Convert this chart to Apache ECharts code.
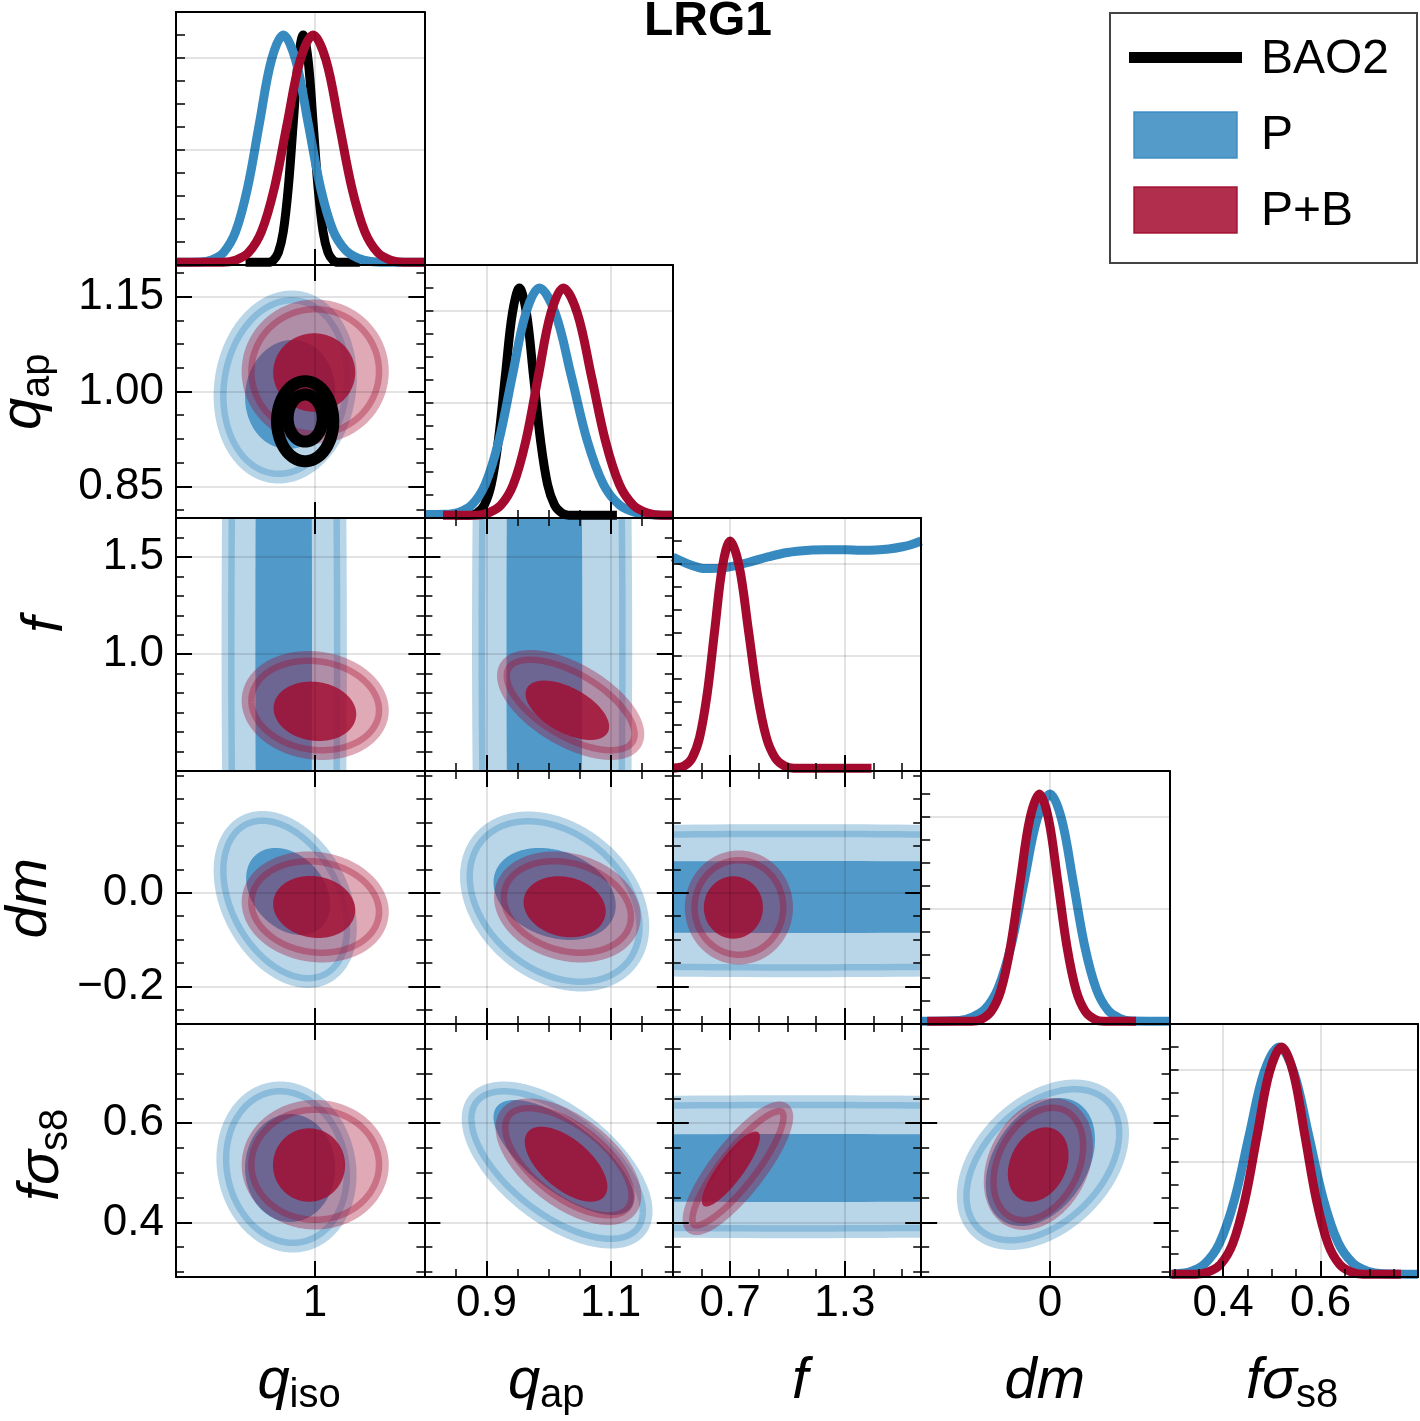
<!DOCTYPE html>
<html>
<head>
<meta charset="utf-8">
<script src="https://cdn.jsdelivr.net/npm/echarts@6/dist/echarts.min.js"></script>
<style>
  html, body { margin: 0; padding: 0; background: #fff; }
  #main { width: 1420px; height: 1421px; }
</style>
</head>
<body>
<div id="main"></div>
<script>
// ---- 1D marginals, [value, density] (peak ~ 10)
var qisoBAO2 = [[0.93,0.12],[0.953,0.12],[0.958,0.21],[0.963,0.54],[0.968,1.45],[0.973,3.35],[0.978,6.17],[0.983,8.9],[0.988,10],[0.993,8.9],[0.998,6.17],[1.003,3.35],[1.008,1.45],[1.013,0.54],[1.018,0.21],[1.023,0.12],[1.045,0.12]];
var qisoP = [[0.86,0.12],[0.884,0.13],[0.896,0.22],[0.908,0.55],[0.92,1.45],[0.932,3.35],[0.944,6.17],[0.956,8.9],[0.968,10],[0.9805,8.9],[0.993,6.17],[1.0055,3.35],[1.018,1.5],[1.0305,0.65],[1.043,0.3],[1.056,0.15],[1.07,0.12],[1.11,0.12]];
var qisoPB = [[0.86,0.12],[0.907,0.12],[0.92,0.21],[0.933,0.54],[0.946,1.45],[0.959,3.35],[0.972,6.17],[0.985,8.9],[0.998,10],[1.011,8.9],[1.024,6.17],[1.037,3.35],[1.05,1.45],[1.063,0.54],[1.076,0.21],[1.089,0.12],[1.11,0.12]];

var qapBAO2 = [[0.85,0.12],[0.8736,0.12],[0.8849,0.22],[0.8963,0.55],[0.9076,1.45],[0.919,3.35],[0.9303,6.17],[0.9417,8.9],[0.953,10],[0.9644,8.9],[0.9757,6.17],[0.9871,3.35],[0.9984,1.45],[1.0098,0.55],[1.0211,0.22],[1.0325,0.12],[1.11,0.12]];
var qapP = [[0.8,0.15],[0.833,0.16],[0.8545,0.24],[0.8763,0.57],[0.898,1.47],[0.9198,3.35],[0.9415,6.17],[0.9633,8.9],[0.985,10],[1.0108,8.9],[1.0366,6.17],[1.0624,3.35],[1.0882,1.47],[1.114,0.57],[1.1398,0.24],[1.1656,0.14],[1.2,0.12]];
var qapPB = [[0.83,0.12],[0.8826,0.12],[0.9028,0.22],[0.923,0.55],[0.9431,1.45],[0.9633,3.35],[0.9834,6.17],[1.0036,8.9],[1.0237,10],[1.0463,8.9],[1.0689,6.17],[1.0915,3.35],[1.1141,1.45],[1.1367,0.55],[1.1593,0.22],[1.1819,0.12],[1.2,0.12]];

var fP = [[0.4,9.3],[0.48,9.0],[0.571,8.8],[0.65,8.82],[0.729,8.93],[0.81,9.1],[0.903,9.32],[1.0,9.5],[1.113,9.6],[1.2,9.62],[1.305,9.62],[1.38,9.6],[1.463,9.61],[1.53,9.65],[1.602,9.75],[1.65,9.85],[1.7,10.0]];
var fPB = [[0.4,0.12],[0.42,0.14],[0.46,0.22],[0.5,0.55],[0.54,1.45],[0.58,3.35],[0.62,6.17],[0.66,8.9],[0.7,10],[0.7475,8.9],[0.795,6.17],[0.8425,3.35],[0.89,1.45],[0.9375,0.55],[0.985,0.22],[1.0325,0.12],[1.44,0.12]];

var dmP = [[-0.28,0.12],[-0.197,0.15],[-0.169,0.3],[-0.141,0.65],[-0.113,1.55],[-0.0846,3.4],[-0.0564,6.17],[-0.0282,8.9],[0,10],[0.0253,8.9],[0.0505,6.17],[0.0758,3.35],[0.101,1.5],[0.126,0.6],[0.1515,0.25],[0.177,0.13],[0.26,0.12]];
var dmPB = [[-0.267,0.12],[-0.17,0.12],[-0.149,0.21],[-0.128,0.54],[-0.107,1.45],[-0.086,3.35],[-0.065,6.17],[-0.044,8.9],[-0.023,10],[-0.003,8.9],[0.017,6.17],[0.037,3.35],[0.057,1.45],[0.077,0.54],[0.097,0.21],[0.117,0.12],[0.187,0.12]];

var fs8P = [[0.29,0.12],[0.3,0.13],[0.3305,0.22],[0.361,0.55],[0.392,1.45],[0.423,3.35],[0.4535,6.17],[0.484,8.9],[0.515,10],[0.545,8.9],[0.5755,6.17],[0.606,3.35],[0.636,1.5],[0.6665,0.6],[0.697,0.25],[0.727,0.14],[0.8,0.12]];
var fs8PB = [[0.295,0.12],[0.344,0.12],[0.3694,0.22],[0.3945,0.55],[0.4196,1.45],[0.4447,3.35],[0.4698,6.17],[0.4949,8.9],[0.52,10],[0.5438,8.9],[0.5676,6.17],[0.5914,3.35],[0.6152,1.45],[0.639,0.55],[0.6628,0.22],[0.6866,0.12],[0.765,0.12]];

// ---- 2D contours, one row per level: [cx, cy, sx, sy, rho]  (2-sigma first, then 1-sigma)
var BAO2_qap_qiso = [[0.99,0.953,0.0283,0.0632,0.0],[0.99,0.958,0.0176,0.0372,0.0]];
var P_qap_qiso  = [[0.9699,1.0071,0.0655,0.1423,0.1],[0.9749,0.9953,0.0454,0.0862,0.05]];
var PB_qap_qiso = [[1.0001,1.0316,0.0675,0.1036,0.0],[0.9991,1.03,0.0413,0.062,0.0]];

var P_f_qiso  = [[0.9689,1.05,0.0565,5,0],[0.9684,1.05,0.0285,5,0]];
var PB_f_qiso = [[1.0001,0.7366,0.0675,0.2466,-0.1],[0.9998,0.7068,0.0416,0.1526,-0.1]];
var P_f_qap   = [[1.0056,1.05,0.1185,5,0],[0.9932,1.05,0.061,5,0]];
var PB_f_qap  = [[1.0355,0.7392,0.1081,0.2492,-0.6],[1.0302,0.712,0.0673,0.1526,-0.55]];

var P_dm_qiso  = [[0.9699,-0.0142,0.0655,0.175,-0.35],[0.9729,0.0029,0.0423,0.0928,-0.3]];
var PB_dm_qiso = [[1.0001,-0.0302,0.0675,0.1046,-0.1],[0.9991,-0.0302,0.0413,0.0662,-0.1]];
var P_dm_qap   = [[1.0097,-0.0185,0.1419,0.1782,-0.3],[1.0097,-0.0025,0.0984,0.0982,-0.25]];
var PB_dm_qap  = [[1.0302,-0.0302,0.1076,0.1046,-0.2],[1.0258,-0.0298,0.0661,0.0651,-0.15]];
var P_dm_f     = [[1.05,-0.0168,5,0.1494,0],[1.05,-0.0089,5,0.0768,0]];
var PB_dm_f    = [[0.746,-0.0313,0.249,0.1078,0],[0.7171,-0.0313,0.1546,0.0666,0]];

var P_fs8_qiso  = [[0.9712,0.5117,0.064,0.1593,-0.1],[0.9749,0.5097,0.0454,0.1089,0]];
var PB_fs8_qiso = [[1.0001,0.5163,0.0675,0.1175,0],[0.9939,0.5157,0.0363,0.074,0]];
var P_fs8_qap   = [[1.0137,0.5157,0.1432,0.1552,-0.6],[1.0242,0.5309,0.1129,0.1159,-0.7]];
var PB_fs8_qap  = [[1.0319,0.5224,0.1069,0.1145,-0.6],[1.0281,0.5174,0.0665,0.0756,-0.6]];
var P_fs8_f     = [[1.05,0.5123,5,0.131,0],[1.05,0.5097,5,0.0685,0]];
var PB_fs8_f    = [[0.7407,0.5091,0.2553,0.1216,0.85],[0.704,0.5077,0.152,0.0756,0.85]];
var P_fs8_dm    = [[-0.0155,0.5163,0.1731,0.1587,0.4],[-0.0209,0.5218,0.1187,0.129,0.35]];
var PB_fs8_dm   = [[-0.0253,0.5178,0.1045,0.1198,0.3],[-0.0257,0.5167,0.066,0.075,0.25]];

// ---- axes
var ranges = [[0.86,1.11],[0.8,1.2],[0.4,1.7],[-0.28,0.26],[0.29,0.8]];
var xMajor = [[1],[0.9,1.1],[0.7,1.3],[0],[0.4,0.6]];
var yMajor = [[],[0.85,1.0,1.15],[1.0,1.5],[-0.2,0.0],[0.4,0.6]];
var xMinor = [null,[0.8,0.05],[0.4,0.15],null,[0.3,0.05]];   // start, step
var yMinor = [null,[0.8125,0.0375],[0.5,0.1],[-0.25,0.05],[0.3,0.05]];
var xDec = [0,1,1,0,1];
var yDec = [0,2,1,1,1];
var diagTicks = [1,2,3,4,5,6,7,8,9,10];
var diagGrid = [5,9];

var FONT = '"Liberation Sans", Arial, Helvetica, sans-serif';
var BLUE = [55,138,192], RED = [163,10,46];
function rgba(c, a){ return 'rgba(' + c[0] + ',' + c[1] + ',' + c[2] + ',' + a + ')'; }

var colX = [176, 424.4, 672.8, 921.2, 1169.6], W = 248.4;
var rowY = [12, 265, 518, 771, 1024], H = 253;

var myChart = echarts.init(document.getElementById('main'), null, {renderer: 'canvas'});

var option = {animation: false, backgroundColor: '#fff', grid: [], xAxis: [], yAxis: [], series: [], graphic: []};

function seq(start, step, range){
  var out = [];
  for (var v = start; v <= range[1] + 1e-9; v += step) {
    var r = Math.round(v * 1e6) / 1e6;
    if (r > range[0] + 1e-9 && r < range[1] - 1e-9) out.push(r);
  }
  return out;
}
function fmt(v, dec){
  var s = Math.abs(v).toFixed(dec);
  return (v < -1e-9 ? '\u2212' : '') + s;
}
function push(list, item){ list.push(item); return list.length - 1; }

function axis(gi, pos, range, ticks, len, opts){
  opts = opts || {};
  var dec = opts.dec;
  return {
    type: 'value', gridIndex: gi, position: pos, min: range[0], max: range[1], z: 10,
    axisLine: {show: !!opts.line, onZero: false, lineStyle: {color: '#000', width: 2}},
    axisTick: {show: len > 0, inside: true, length: len, customValues: ticks,
               lineStyle: {color: '#000', width: len >= 12 ? 2 : 1.5}},
    axisLabel: {show: dec !== undefined, customValues: ticks, margin: opts.margin || 8,
                color: '#000', fontSize: 44, fontFamily: FONT,
                formatter: function(v){ return fmt(v, dec); }},
    splitLine: {show: !!opts.split, lineStyle: {color: 'rgba(0,0,0,0.11)', width: 2}},
    minorTick: {show: false}, minorSplitLine: {show: false}
  };
}

function lineSeries(xi, yi, data, color){
  return {type: 'line', xAxisIndex: xi, yAxisIndex: yi, data: data, smooth: 0.35,
          symbol: 'none', showSymbol: false, clip: true, silent: true, z: 3,
          lineStyle: {color: color, width: 9}};
}

function contourSeries(xi, yi, rows, color, isLine){
  return {
    type: 'custom', xAxisIndex: xi, yAxisIndex: yi, clip: true, silent: true, z: 2,
    data: rows.map(function(d, k){ return d.concat([k]); }),
    renderItem: function(params, api){
      var cx = api.value(0), cy = api.value(1), sx = api.value(2), sy = api.value(3);
      var rho = api.value(4), lvl = api.value(5);
      var s = Math.sqrt(1 - rho * rho), pts = [], n = 360;
      for (var k = 0; k < n; k++) {
        var t = 2 * Math.PI * k / n;
        pts.push(api.coord([cx + sx * Math.cos(t), cy + sy * (rho * Math.cos(t) + s * Math.sin(t))]));
      }
      var style;
      if (isLine) style = {fill: 'none', stroke: '#000', lineWidth: 12};
      else if (lvl === 0) style = {fill: rgba(color, 0.35), stroke: rgba(color, 0.35), lineWidth: 13};
      else style = {fill: rgba(color, 0.8)};
      return {type: 'polygon', shape: {points: pts}, style: style};
    }
  };
}

var diagSets = [[qisoBAO2, qisoP, qisoPB], [qapBAO2, qapP, qapPB], [null, fP, fPB], [null, dmP, dmPB], [null, fs8P, fs8PB]];
var vname = ['qiso', 'qap', 'f', 'dm', 'fs8'];
var contours = {
  P_qap_qiso: P_qap_qiso, PB_qap_qiso: PB_qap_qiso,
  P_f_qiso: P_f_qiso, PB_f_qiso: PB_f_qiso, P_f_qap: P_f_qap, PB_f_qap: PB_f_qap,
  P_dm_qiso: P_dm_qiso, PB_dm_qiso: PB_dm_qiso, P_dm_qap: P_dm_qap, PB_dm_qap: PB_dm_qap, P_dm_f: P_dm_f, PB_dm_f: PB_dm_f,
  P_fs8_qiso: P_fs8_qiso, PB_fs8_qiso: PB_fs8_qiso, P_fs8_qap: P_fs8_qap, PB_fs8_qap: PB_fs8_qap,
  P_fs8_f: P_fs8_f, PB_fs8_f: PB_fs8_f, P_fs8_dm: P_fs8_dm, PB_fs8_dm: PB_fs8_dm
};

for (var r = 0; r < 5; r++) {
  for (var c = 0; c <= r; c++) {
    var gi = push(option.grid, {left: colX[c], top: rowY[r], width: W, height: H, show: false});
    var xr = ranges[c];
    var xb = push(option.xAxis, axis(gi, 'bottom', xr, xMajor[c], 16,
      {line: true, split: true, dec: r === 4 ? xDec[c] : undefined, margin: 5}));
    if (xMinor[c]) push(option.xAxis, axis(gi, 'bottom', xr, seq(xMinor[c][0], xMinor[c][1], xr), 8));

    if (r === c) {
      push(option.xAxis, axis(gi, 'top', xr, [], 0, {line: true}));
      var yt = push(option.yAxis, axis(gi, 'left', [0, 11], diagTicks, 9, {line: true}));
      push(option.yAxis, axis(gi, 'left', [0, 11], diagGrid, 0, {split: true}));
      push(option.yAxis, axis(gi, 'right', [0, 11], [], 0, {line: true}));
      var ds = diagSets[r];
      if (ds[0]) option.series.push(lineSeries(xb, yt, ds[0], '#000'));
      option.series.push(lineSeries(xb, yt, ds[1], rgba(BLUE, 1)));
      option.series.push(lineSeries(xb, yt, ds[2], rgba(RED, 1)));
    } else {
      var yr = ranges[r];
      push(option.xAxis, axis(gi, 'top', xr, xMajor[c], 16, {line: true}));
      if (xMinor[c]) push(option.xAxis, axis(gi, 'top', xr, seq(xMinor[c][0], xMinor[c][1], xr), 8));
      var yl = push(option.yAxis, axis(gi, 'left', yr, yMajor[r], 16,
        {line: true, split: true, dec: c === 0 ? yDec[r] : undefined, margin: 12}));
      push(option.yAxis, axis(gi, 'left', yr, seq(yMinor[r][0], yMinor[r][1], yr), 8));
      push(option.yAxis, axis(gi, 'right', yr, yMajor[r], 16, {line: true}));
      push(option.yAxis, axis(gi, 'right', yr, seq(yMinor[r][0], yMinor[r][1], yr), 8));
      var key = vname[r] + '_' + vname[c];
      option.series.push(contourSeries(xb, yl, contours['P_' + key], BLUE, false));
      option.series.push(contourSeries(xb, yl, contours['PB_' + key], RED, false));
      if (r === 1 && c === 0) option.series.push(contourSeries(xb, yl, BAO2_qap_qiso, null, true));
    }
  }
}

// ---- axis titles
function label(x, y, main, sub, rotated){
  var mainFont = 'italic 58px ' + FONT;
  var subFont = '40px ' + FONT;
  var wMain = main.w, wSub = sub ? sub.w : 0, total = wMain + wSub;
  var children = [{type: 'text', x: -total / 2, y: 0,
    style: {text: main.t, font: mainFont, fill: '#000', textAlign: 'left', textVerticalAlign: 'middle', align: 'left', verticalAlign: 'middle'}}];
  if (sub) children.push({type: 'text', x: -total / 2 + wMain, y: 14,
    style: {text: sub.t, font: subFont, fill: '#000', textAlign: 'left', textVerticalAlign: 'middle', align: 'left', verticalAlign: 'middle'}});
  return {type: 'group', x: x, y: y, rotation: rotated ? Math.PI / 2 : 0, silent: true, children: children};
}

option.graphic.push(label(299, 1382, {t: 'q', w: 32}, {t: 'iso', w: 51}));
option.graphic.push(label(546, 1382, {t: 'q', w: 32}, {t: 'ap', w: 44}));
option.graphic.push(label(800, 1382, {t: 'f', w: 16}, null));
option.graphic.push(label(1045, 1382, {t: 'dm', w: 81}, null));
option.graphic.push(label(1292, 1382, {t: 'f\u03c3', w: 50}, {t: 's8', w: 42}));

option.graphic.push(label(24, 392, {t: 'q', w: 32}, {t: 'ap', w: 44}, true));
option.graphic.push(label(46, 625, {t: 'f', w: 16}, null, true));
option.graphic.push(label(30, 898, {t: 'dm', w: 81}, null, true));
option.graphic.push(label(42, 1155, {t: 'f\u03c3', w: 50}, {t: 's8', w: 42}, true));

// ---- title
option.graphic.push({type: 'text', x: 708, y: 22, silent: true,
  style: {text: 'LRG1', font: 'bold 48px ' + FONT, fill: '#000', textAlign: 'center', textVerticalAlign: 'middle', align: 'center', verticalAlign: 'middle'}});

// ---- legend
var legFont = '48px ' + FONT;
option.graphic.push({type: 'group', silent: true, children: [
  {type: 'rect', shape: {x: 1110, y: 13, width: 307, height: 250}, style: {fill: '#fff', stroke: '#444', lineWidth: 2}},
  {type: 'line', shape: {x1: 1129, y1: 57.5, x2: 1242, y2: 57.5}, style: {stroke: '#000', lineWidth: 11}},
  {type: 'rect', shape: {x: 1134, y: 112, width: 103, height: 46}, style: {fill: rgba(BLUE, 0.85), stroke: rgba(BLUE, 0.9), lineWidth: 1.5}},
  {type: 'rect', shape: {x: 1134, y: 187, width: 103, height: 46}, style: {fill: rgba(RED, 0.85), stroke: rgba(RED, 0.9), lineWidth: 1.5}},
  {type: 'text', x: 1261, y: 60, style: {text: 'BAO2', font: legFont, fill: '#000', textAlign: 'left', textVerticalAlign: 'middle', align: 'left', verticalAlign: 'middle'}},
  {type: 'text', x: 1261, y: 136, style: {text: 'P', font: legFont, fill: '#000', textAlign: 'left', textVerticalAlign: 'middle', align: 'left', verticalAlign: 'middle'}},
  {type: 'text', x: 1261, y: 212, style: {text: 'P+B', font: legFont, fill: '#000', textAlign: 'left', textVerticalAlign: 'middle', align: 'left', verticalAlign: 'middle'}}
]});

myChart.setOption(option);
</script>
</body>
</html>
